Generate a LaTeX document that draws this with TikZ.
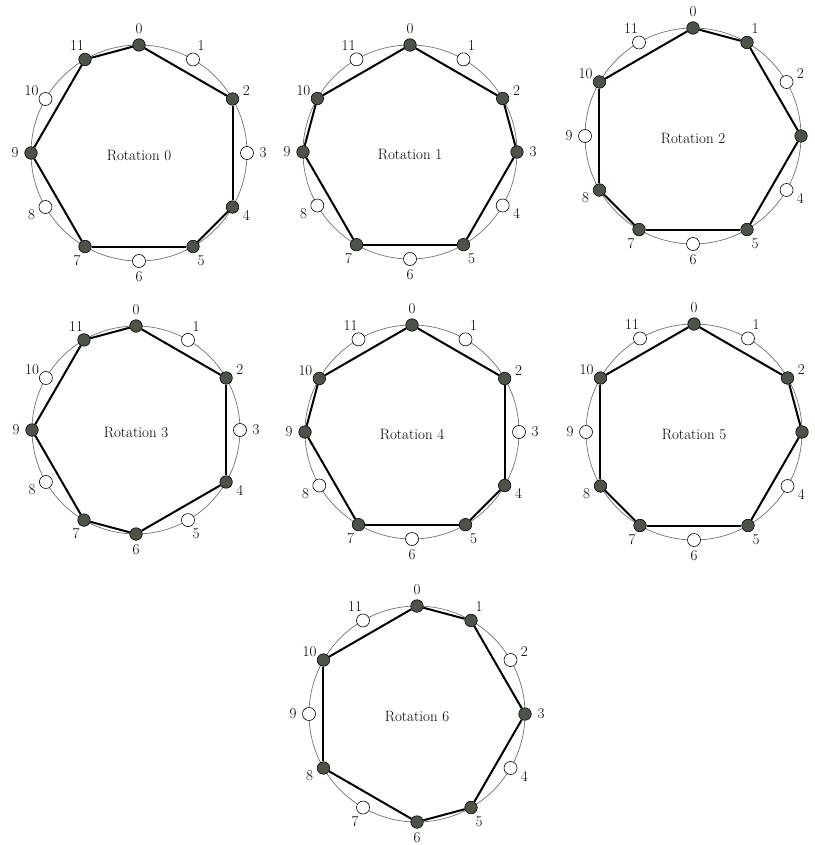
\documentclass[tikz,border=0pt]{standalone}
\usepackage{tikz}
\definecolor{dotfill}{HTML}{4B5447}
\tikzset{
  wheel/.style={draw=black!55, line width=0.7pt},
  fulldot/.style={circle, draw=black, line width=0.6pt, fill=dotfill, minimum size=12.5pt, inner sep=0pt},
  opendot/.style={circle, draw=black, line width=0.6pt, fill=white, minimum size=13pt, inner sep=0pt},
  poly/.style={draw=black, line width=2pt},
  numlabel/.style={font=\fontsize{15}{17}\selectfont, inner sep=0pt, anchor=center},
  wheeltitle/.style={font=\fontsize{15}{17}\selectfont, inner sep=0pt, anchor=center}
}
% #1 digit, #2 cx, #3 cy, #4 r, #5 filled, #6 open, #7 edges, #8 labels
\newcommand\rotwheel[8]{%
  \coordinate (w#1c) at (#2,#3);
  \draw[wheel] (w#1c) circle (#4);
  \foreach \k in {#6}
    \node[opendot] (w#1n\k) at ({#2+#4*cos(30*\k-90)},{#3+#4*sin(30*\k-90)}) {};
  \foreach \k in {#5}
    \node[fulldot] (w#1n\k) at ({#2+#4*cos(30*\k-90)},{#3+#4*sin(30*\k-90)}) {};
  \foreach \a/\b in {#7}
    \draw[poly] (w#1n\a) -- (w#1n\b);
  \foreach \k in {#8}
    \node[numlabel] (w#1l\k) at ({#2+(#4+16)*cos(30*\k-90)},{#3+(#4+16)*sin(30*\k-90)}) {\k};
  \node[wheeltitle] (w#1t) at (#2,#3+2) {Rotation #1};
}
\begin{document}
\begin{tikzpicture}[x=1pt,y=-1pt]
\path[use as bounding box, fill=white] (0,0) rectangle (814,845);
\rotwheel{0}{139}{153}{108}{0,2,4,5,7,9,11}{1,3,6,8,10}{0/2,2/4,4/5,5/7,7/9,9/11,11/0}{0,1,2,3,4,5,6,7,8,9,10,11}
\rotwheel{1}{410}{152}{107}{0,2,3,5,7,9,10}{1,4,6,8,11}{0/2,2/3,3/5,5/7,7/9,9/10,10/0}{0,1,2,3,4,5,6,7,8,9,10,11}
\rotwheel{2}{693}{136}{108}{0,1,3,5,7,8,10}{2,4,6,9,11}{0/1,1/3,3/5,5/7,7/8,8/10,10/0}{0,1,2,4,5,6,7,8,9,10,11}
\rotwheel{3}{136}{430}{104}{0,2,4,6,7,9,11}{1,3,5,8,10}{0/2,2/4,4/6,6/7,7/9,9/11,11/0}{0,1,2,3,4,5,6,7,8,9,10,11}
\rotwheel{4}{412}{432}{107}{0,2,4,5,7,9,10}{1,3,6,8,11}{0/2,2/4,4/5,5/7,7/9,9/10,10/0}{0,1,2,3,4,5,6,7,8,9,10,11}
\rotwheel{5}{694}{432}{108}{0,2,3,5,7,8,10}{1,4,6,9,11}{0/2,2/3,3/5,5/7,7/8,8/10,10/0}{0,1,2,4,5,6,7,8,9,10,11}
\rotwheel{6}{417}{714}{108}{0,1,3,5,6,8,10}{2,4,7,9,11}{0/1,1/3,3/5,5/6,6/8,8/10,10/0}{0,1,2,3,4,5,7,8,9,10,11}
\node[numlabel] (w6l6) at (417,837.5) {6};
\end{tikzpicture}
\end{document}
